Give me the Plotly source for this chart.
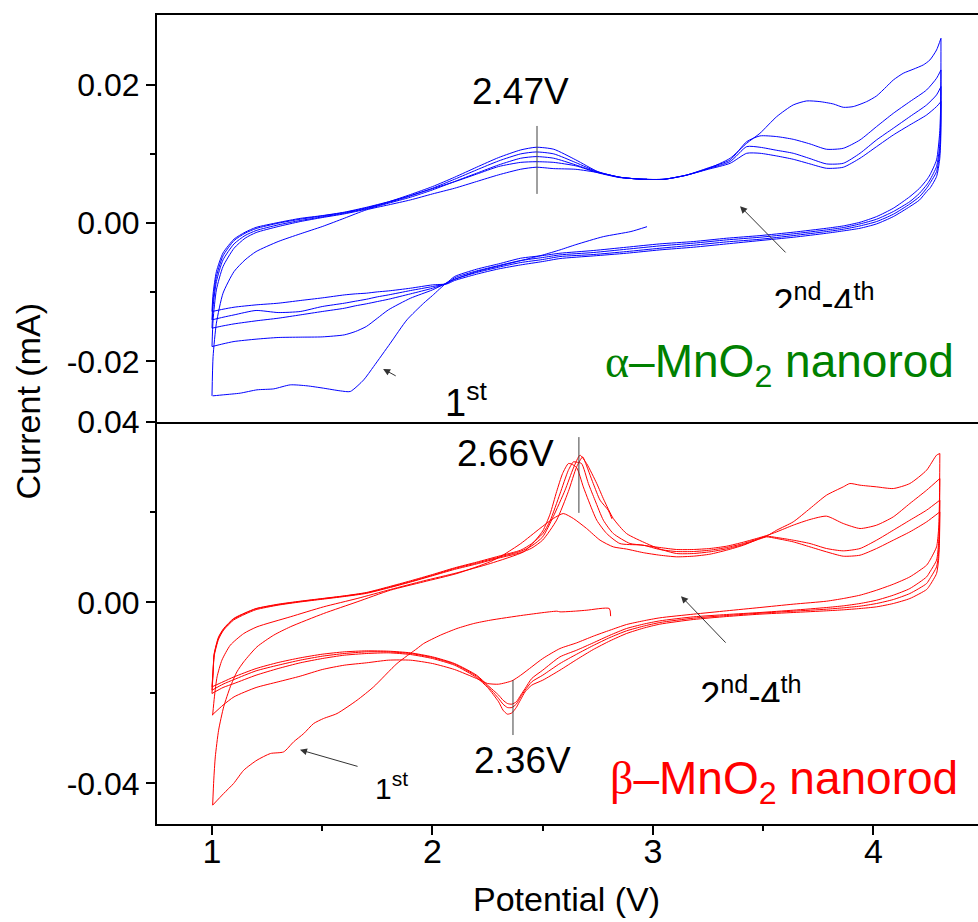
import plotly.graph_objects as go

# ================= DATA =================
# ---- alpha-MnO2 nanorod (top panel) : potential (V), current (mA)
a_an_grid = [1.00, 1.005, 1.02, 1.05, 1.10, 1.15, 1.20, 1.30, 1.40, 1.50, 1.60, 1.70, 1.80, 1.90,
             2.00, 2.10, 2.20, 2.30, 2.40, 2.47, 2.55, 2.65, 2.75, 2.85, 2.95, 3.05, 3.15, 3.25,
             3.35, 3.425, 3.485, 3.561, 3.636, 3.712, 3.787, 3.863, 3.939, 4.014, 4.09, 4.165,
             4.241, 4.286, 4.306]
a_c0_v = [2.973, 2.9, 2.775, 2.65, 2.578, 2.5, 2.414, 2.3, 2.2, 2.111, 2.066, 2.0, 1.96, 1.884,
          1.809, 1.733, 1.688, 1.627, 1.582, 1.506, 1.431, 1.355, 1.28, 1.204, 1.128, 1.053, 1.003]
a_c0_i = [-0.0005, -0.0012, -0.00194, -0.0031, -0.00386, -0.0046, -0.0053, -0.0062, -0.0070, -0.0080,
          -0.00859, -0.01046, -0.01157, -0.01398, -0.01735, -0.02073, -0.02266, -0.02434, -0.02425,
          -0.02386, -0.02352, -0.02338, -0.02396, -0.0241, -0.02458, -0.02482, -0.02497]
a_a1_v = [1.00, 1.005, 1.02, 1.05, 1.10, 1.15, 1.20, 1.30, 1.40, 1.50, 1.60, 1.70, 1.80, 1.90, 2.00,
          2.10, 2.20, 2.30, 2.40, 2.47, 2.55, 2.65, 2.75, 2.85, 2.95, 3.05, 3.15, 3.25, 3.35, 3.425,
          3.485, 3.561, 3.636, 3.697, 3.757, 3.818, 3.863, 3.908, 3.969, 4.014, 4.059, 4.09, 4.135,
          4.18, 4.226, 4.256, 4.286, 4.306]
a_a1_i = [-0.02497, -0.01928, -0.01446, -0.01012, -0.00699, -0.0053, -0.0041, -0.00265, -0.00154,
          -0.00048, 0.00072, 0.00193, 0.00265, 0.00337, 0.00424, 0.00506, 0.00603, 0.007, 0.00781,
          0.0081, 0.0079, 0.0078, 0.00733, 0.00665, 0.00636, 0.00636, 0.00694, 0.0079, 0.0094,
          0.01157, 0.01301, 0.01542, 0.01711, 0.01769, 0.01759, 0.01725, 0.01677, 0.01687, 0.01759,
          0.01841, 0.01976, 0.02072, 0.02169, 0.02227, 0.0229, 0.02362, 0.02506, 0.02675]
a_a2_i = [-0.01784, -0.01398, -0.00964, -0.00627, -0.00362, -0.00217, -0.00135, -0.00048, 0.00024,
          0.00082, 0.00135, 0.00203, 0.00289, 0.00376, 0.00482, 0.00603, 0.00723, 0.00843, 0.0094,
          0.00964, 0.0094, 0.00843, 0.00737, 0.00665, 0.00636, 0.00636, 0.00694, 0.008, 0.00916,
          0.0118, 0.01263, 0.01253, 0.01214, 0.01147, 0.0107, 0.01084, 0.01205, 0.01398, 0.0159,
          0.01759, 0.01928, 0.02097, 0.02217]
a_a3_i = [-0.01518, -0.01205, -0.00844, -0.0053, -0.00299, -0.00178, -0.00106, -0.00024, 0.00039,
          0.00092, 0.00145, 0.00212, 0.00299, 0.00395, 0.00506, 0.00636, 0.00771, 0.00901, 0.01003,
          0.01031, 0.01003, 0.00877, 0.00742, 0.00665, 0.00636, 0.00636, 0.00694, 0.0079, 0.00892,
          0.01108, 0.01099, 0.01055, 0.01012, 0.00935, 0.00858, 0.00867, 0.01012, 0.01205, 0.01374,
          0.01542, 0.01711, 0.01856, 0.01976]
a_a4_i = [-0.01398, -0.01109, -0.00771, -0.00472, -0.00251, -0.00145, -0.00077, 0.0, 0.00058,
          0.00106, 0.00154, 0.00222, 0.00308, 0.00415, 0.0053, 0.00665, 0.0081, 0.0095, 0.0106,
          0.01099, 0.0107, 0.00916, 0.00747, 0.00665, 0.00636, 0.00636, 0.00694, 0.0078, 0.00867,
          0.01012, 0.01012, 0.00973, 0.00925, 0.00858, 0.00795, 0.0081, 0.0094, 0.01108, 0.01277,
          0.01422, 0.01566, 0.01687, 0.01759]
a_a5_v = [1.00, 1.005, 1.02, 1.05, 1.10, 1.15, 1.20, 1.30, 1.40, 1.50, 1.60, 1.70, 1.80, 1.90,
          2.00, 2.10, 2.20, 2.30, 2.40, 2.47, 2.55, 2.65, 2.75, 2.85, 2.95, 2.973]
a_a5_i = [-0.01277, -0.0102, -0.0070, -0.0043, -0.0023, -0.0013, -0.0006, 0.0001, 0.0007, 0.0011,
          0.0016, 0.0023, 0.0031, 0.0040, 0.0050, 0.0060, 0.0071, 0.0082, 0.0088, 0.0089, 0.0088,
          0.0083, 0.0073, 0.0066, 0.0064, 0.0064]
a_cat_grid = [4.306, 4.305, 4.30, 4.286, 4.256, 4.241, 4.209, 4.165, 4.09, 4.014, 3.939, 3.863,
              3.787, 3.636, 3.485, 3.334, 3.183, 3.031, 2.88, 2.729, 2.578, 2.5, 2.4, 2.3, 2.2,
              2.1, 2.066, 2.0, 1.9, 1.8, 1.75, 1.7, 1.65, 1.6, 1.5, 1.4, 1.3, 1.2, 1.1, 1.05, 1.0]
a_c1_i = [0.02675, 0.01735, 0.01301, 0.00916, 0.00699, 0.00626, 0.00506, 0.00385, 0.00217, 0.00096,
          0.00014, -0.00039, -0.00073, -0.0013, -0.00179, -0.00217, -0.00265, -0.00299, -0.00347,
          -0.00395, -0.00434, -0.00468, -0.00506, -0.00588, -0.00665, -0.00771, -0.00858, -0.00964,
          -0.01085, -0.01253, -0.01374, -0.01494, -0.01567, -0.01615, -0.01644, -0.01648, -0.01653,
          -0.01677, -0.01711, -0.01745, -0.01784]
a_c2_i = [0.02217, 0.01494, 0.01108, 0.0082, 0.00626, 0.00554, 0.00434, 0.00313, 0.00169, 0.00058,
          -0.0001, -0.00063, -0.00097, -0.00154, -0.00203, -0.00241, -0.00289, -0.00328, -0.00376,
          -0.00424, -0.00458, -0.00496, -0.0054, -0.00612, -0.0069, -0.0079, -0.00868, -0.0094,
          -0.01022, -0.011, -0.01133, -0.01166, -0.01195, -0.0123, -0.01277, -0.01326, -0.01374,
          -0.01412, -0.01456, -0.01485, -0.01518]
a_c3_i = [0.01976, 0.0135, 0.01012, 0.00747, 0.00578, 0.00506, 0.00385, 0.00279, 0.0013, 0.00024,
          -0.00039, -0.00087, -0.00121, -0.00179, -0.00232, -0.0027, -0.00318, -0.00362, -0.0041,
          -0.00453, -0.00482, -0.00525, -0.00569, -0.00636, -0.00713, -0.0081, -0.00872, -0.00916,
          -0.00974, -0.01037, -0.01065, -0.011, -0.01128, -0.01157, -0.01205, -0.01277, -0.01292,
          -0.01262, -0.01326, -0.0136, -0.01398]
a_c4_i = [0.01759, 0.01205, 0.00916, 0.00675, 0.00506, 0.00458, 0.00337, 0.00241, 0.00096, -0.0001,
          -0.00073, -0.00111, -0.00145, -0.00203, -0.00251, -0.00299, -0.00347, -0.00386, -0.00434,
          -0.00473, -0.00511, -0.00554, -0.00603, -0.00661, -0.00737, -0.00829, -0.00877, -0.00892,
          -0.0094, -0.00979, -0.00993, -0.01012, -0.01022, -0.01037, -0.0108, -0.01118, -0.01157,
          -0.01181, -0.01215, -0.01244, -0.01277]

# ---- beta-MnO2 nanorod (bottom panel)
b_c0_v = [2.808, 2.802, 2.70, 2.655, 2.578, 2.565, 2.413, 2.262, 2.187, 2.111, 2.036, 1.96, 1.93,
          1.839, 1.733, 1.658, 1.567, 1.506, 1.461, 1.416, 1.37, 1.325, 1.265, 1.204, 1.144, 1.098,
          1.053, 1.003]
b_c0_i = [-0.00304, -0.00135, -0.00172, -0.0019, -0.00209, -0.00194, -0.00282, -0.00393, -0.00467,
          -0.00577, -0.00724, -0.00909, -0.0102, -0.01351, -0.01867, -0.02162, -0.02457, -0.02567,
          -0.02678, -0.029, -0.03084, -0.03305, -0.03341, -0.03488, -0.0371, -0.04004, -0.04225,
          -0.04483]
b_a1_v = [1.003, 1.008, 1.015, 1.03, 1.053, 1.083, 1.113, 1.144, 1.204, 1.28, 1.355, 1.506, 1.658,
          1.809, 1.96, 2.111, 2.262, 2.321, 2.40, 2.487, 2.548, 2.593, 2.639, 2.699, 2.76, 2.82,
          2.88, 2.956, 3.031, 3.107, 3.183, 3.258, 3.334, 3.41, 3.485, 3.515, 3.561, 3.636, 3.712,
          3.787, 3.863, 3.893, 3.939, 4.014, 4.09, 4.165, 4.241, 4.286, 4.301]
b_a1_i = [-0.04483, -0.03931, -0.03415, -0.02825, -0.02309, -0.01867, -0.01535, -0.01314, -0.00982,
          -0.00724, -0.0054, -0.00246, 0.00012, 0.0027, 0.00455, 0.00639, 0.0090, 0.0105, 0.0130,
          0.01634, 0.01855, 0.01965, 0.01855, 0.01634, 0.01376, 0.01228, 0.0118, 0.0110, 0.01044,
          0.01008, 0.01022, 0.01066, 0.01155, 0.01265, 0.01413, 0.01464, 0.01597, 0.01781, 0.02076,
          0.02371, 0.02555, 0.02629, 0.02592, 0.02555, 0.02518, 0.02629, 0.02924, 0.03255, 0.03292]
b_a2_v = [1.003, 1.011, 1.023, 1.045, 1.083, 1.144, 1.204, 1.355, 1.506, 1.658, 1.809, 1.96, 2.111,
          2.262, 2.413, 2.45, 2.50, 2.533, 2.563, 2.59, 2.616, 2.63, 2.654, 2.684, 2.707, 2.745,
          2.79, 2.85, 2.941, 3.031, 3.107, 3.183, 3.258, 3.334, 3.41, 3.485, 3.515, 3.561, 3.636,
          3.712, 3.787, 3.863, 3.939, 4.014, 4.09, 4.165, 4.241, 4.301]
b_a2_i = [-0.02493, -0.02088, -0.01646, -0.01277, -0.00946, -0.00688, -0.0054, -0.00319, -0.00098,
          0.00086, 0.00285, 0.00477, 0.00654, 0.0086, 0.01118, 0.0128, 0.0158, 0.0195, 0.0245,
          0.0285, 0.0307, 0.0306, 0.0298, 0.02555, 0.0226, 0.01818, 0.01523, 0.01302, 0.0127,
          0.01214, 0.0117, 0.0117, 0.01192, 0.01243, 0.01332, 0.01435, 0.01479, 0.0156, 0.01708,
          0.01833, 0.01907, 0.01744, 0.01634, 0.01708, 0.01892, 0.02187, 0.02481, 0.0274]
b_left_grid = [1.0, 1.005, 1.01, 1.03, 1.053, 1.098, 1.15, 1.2, 1.3, 1.4, 1.5, 1.6, 1.7, 1.8, 1.9,
               2.0, 2.1, 2.2, 2.3, 2.4, 2.45]
b_a3_v = b_left_grid + [2.50, 2.533, 2.578, 2.616, 2.639, 2.654, 2.676, 2.707, 2.737, 2.775, 2.82,
                        2.896, 2.956, 3.031, 3.107, 3.183, 3.258, 3.334, 3.41, 3.485, 3.515, 3.561,
                        3.636, 3.712, 3.787, 3.863, 3.939, 4.014, 4.09, 4.165, 4.241, 4.301]
b_a3_i = [-0.01867, -0.01498, -0.0113, -0.00761, -0.00577, -0.00356, -0.00231, -0.00135, -0.00039,
          0.00027, 0.00086, 0.00145, 0.00219, 0.00344, 0.00477, 0.00617, 0.00764, 0.0089, 0.01022,
          0.01155, 0.0130, 0.0152, 0.0180, 0.0240, 0.0292, 0.03108, 0.0310, 0.03071, 0.02629,
          0.0226, 0.01818, 0.01523, 0.01302, 0.01265, 0.0117, 0.01125, 0.01125, 0.01155, 0.01214,
          0.01302, 0.0142, 0.01464, 0.01435, 0.01376, 0.01302, 0.01192, 0.0114, 0.01192, 0.01376,
          0.01597, 0.01818, 0.0204, 0.02261]
b_a4_v = b_left_grid + [2.50, 2.548, 2.601, 2.639, 2.669, 2.699, 2.745, 2.778, 2.82, 2.88, 2.971,
                        3.031, 3.107, 3.183, 3.258, 3.334, 3.41, 3.485, 3.515, 3.561, 3.636, 3.712,
                        3.787, 3.863, 3.939, 4.014, 4.09, 4.165, 4.241, 4.301]
b_a4_i = [-0.0194, -0.0152, -0.0115, -0.0078, -0.0059, -0.0037, -0.0024, -0.0014, -0.0005, 0.0002,
          0.0008, 0.0014, 0.0021, 0.0033, 0.0046, 0.0060, 0.0075, 0.0087, 0.0100, 0.0113, 0.0125,
          0.0145, 0.0190, 0.0248, 0.0297, 0.03255, 0.0307, 0.02629, 0.0226, 0.01855, 0.01523,
          0.01302, 0.0118, 0.01081, 0.01081, 0.01118, 0.01184, 0.0128, 0.01405, 0.01449, 0.01413,
          0.01339, 0.01228, 0.01118, 0.01022, 0.01044, 0.01192, 0.01376, 0.0156, 0.01781, 0.02002]
b_a5_v = b_left_grid + [2.50, 2.563, 2.616, 2.654, 2.681, 2.692, 2.729, 2.76, 2.797, 2.814]
b_a5_i = [-0.02014, -0.0156, -0.0118, -0.0081, -0.0061, -0.0039, -0.0026, -0.0016, -0.0006, 0.0001,
          0.0007, 0.0013, 0.0020, 0.0032, 0.0045, 0.0059, 0.0073, 0.0085, 0.0098, 0.0110, 0.0120,
          0.0138, 0.0182, 0.0245, 0.0300, 0.03218, 0.03108, 0.02629, 0.0226, 0.02039, 0.01847]
b_cat_right = [4.301, 4.299, 4.295, 4.286, 4.256, 4.241, 4.165, 4.09, 4.014, 3.939, 3.863, 3.787,
               3.636, 3.485, 3.334, 3.183, 3.031, 2.956, 2.88, 2.805, 2.729, 2.654, 2.578]
b_c1_left = [2.5, 2.45, 2.40, 2.36, 2.30, 2.25, 2.20, 2.10, 2.00, 1.90, 1.80, 1.70, 1.60, 1.50,
             1.40, 1.30, 1.20, 1.10, 1.05, 1.0]
b_dip_left = [2.5, 2.45, 2.42, 2.40, 2.38, 2.36, 2.34, 2.32, 2.30, 2.25, 2.20, 2.10, 2.00, 1.90,
              1.80, 1.70, 1.60, 1.50, 1.40, 1.30, 1.20, 1.10, 1.05, 1.0]
b_c1_i = [0.03292, 0.02187, 0.01597, 0.01229, 0.00934, 0.00823, 0.00565, 0.00403, 0.0027, 0.0016,
          0.00086, 0.00027, -0.00039, -0.00113, -0.00186, -0.0026, -0.00341, -0.00408, -0.00489,
          -0.00614, -0.00747, -0.00894, -0.0102,
          -0.01241, -0.01425, -0.0161, -0.01734, -0.01808, -0.01793, -0.01683, -0.01484, -0.01351,
          -0.01277, -0.01277, -0.01336, -0.01388, -0.01484, -0.01631, -0.01756, -0.01882, -0.02088,
          -0.02272, -0.02493]
b_c2_i = [0.0274, 0.01744, 0.01302, 0.00934, 0.00676, 0.00565, 0.00307, 0.0016, 0.00049, -0.00024,
          -0.00076, -0.00113, -0.00172, -0.00223, -0.00268, -0.00319, -0.00408, -0.00481, -0.00577,
          -0.00725, -0.00894, -0.01056, -0.01204,
          -0.01498, -0.01683, -0.01904, -0.02051, -0.02199, -0.0225, -0.02235, -0.02162, -0.02051,
          -0.0183, -0.01609, -0.01351, -0.01204, -0.01115, -0.01078, -0.01071, -0.01093, -0.01145,
          -0.01226, -0.01329, -0.01462, -0.01646, -0.01756, -0.01867]
b_c3_i = [0.02261, 0.01449, 0.01081, 0.00786, 0.00528, 0.00418, 0.00197, 0.00064, -0.00024,
          -0.00083, -0.0012, -0.0015, -0.00194, -0.00238, -0.0029, -0.00349, -0.00445, -0.00526,
          -0.00629, -0.00776, -0.00953, -0.01145, -0.01351,
          -0.01609, -0.01756, -0.01941, -0.02088, -0.0225, -0.02324, -0.02324, -0.0225, -0.02125,
          -0.01852, -0.01631, -0.01366, -0.01218, -0.0113, -0.01093, -0.01093, -0.0113, -0.01189,
          -0.01277, -0.01388, -0.01513, -0.01705, -0.01808, -0.01941]
b_c4_i = [0.02002, 0.01302, 0.00934, 0.00639, 0.00381, 0.00285, 0.00086, -0.00024, -0.00098,
          -0.00135, -0.00164, -0.00186, -0.00223, -0.0026, -0.00312, -0.00378, -0.00481, -0.0057,
          -0.00688, -0.0085, -0.01042, -0.01263, -0.01498,
          -0.0172, -0.0183, -0.01977, -0.02147, -0.02324, -0.02442, -0.02471, -0.02383, -0.02199,
          -0.01882, -0.01661, -0.01388, -0.01241, -0.01152, -0.01115, -0.0113, -0.01167, -0.01241,
          -0.01336, -0.01462, -0.01609, -0.01793, -0.01882, -0.02014]

# axis ticks
x_ticks = [1, 2, 3, 4]
x_minor = [1.5, 2.5, 3.5]
top_yticks = [-0.02, 0.0, 0.02]
top_ytext = ["-0.02", "0.00", "0.02"]
top_yminor = [-0.01, 0.01]
bot_yticks = [-0.04, 0.0, 0.04]
bot_ytext = ["-0.04", "0.00", "0.04"]
bot_yminor = [-0.02, 0.02]

# ================= FIGURE =================
FONT = "Liberation Sans, Arial, sans-serif"
W, H = 978, 922
BLUE, RED = "#0000ff", "#ff0000"
XR = [0.7506, 4.474]
x_dom = [157 / W, 1.0]
top_dom = [1 - 421.5 / H, 1 - 15 / H]
bot_dom = [1 - 824.3 / H, 1 - 421.5 / H]

fig = go.Figure()


def curve(v, i, color, xa, ya):
    fig.add_trace(go.Scatter(x=v, y=i, mode="lines",
                             line=dict(color=color, width=1, shape="spline", smoothing=0.6),
                             xaxis=xa, yaxis=ya, showlegend=False, hoverinfo="skip"))


curve(a_c0_v, a_c0_i, BLUE, "x2", "y2")
curve(a_a1_v, a_a1_i, BLUE, "x2", "y2")
curve(a_cat_grid, a_c1_i, BLUE, "x2", "y2")
curve(a_an_grid, a_a2_i, BLUE, "x2", "y2")
curve(a_cat_grid, a_c2_i, BLUE, "x2", "y2")
curve(a_an_grid, a_a3_i, BLUE, "x2", "y2")
curve(a_cat_grid, a_c3_i, BLUE, "x2", "y2")
curve(a_an_grid, a_a4_i, BLUE, "x2", "y2")
curve(a_cat_grid, a_c4_i, BLUE, "x2", "y2")
curve(a_a5_v, a_a5_i, BLUE, "x2", "y2")

curve(b_c0_v, b_c0_i, RED, "x", "y")
curve(b_a1_v, b_a1_i, RED, "x", "y")
curve(b_cat_right + b_c1_left, b_c1_i, RED, "x", "y")
curve(b_a2_v, b_a2_i, RED, "x", "y")
curve(b_cat_right + b_dip_left, b_c2_i, RED, "x", "y")
curve(b_a3_v, b_a3_i, RED, "x", "y")
curve(b_cat_right + b_dip_left, b_c3_i, RED, "x", "y")
curve(b_a4_v, b_a4_i, RED, "x", "y")
curve(b_cat_right + b_dip_left, b_c4_i, RED, "x", "y")
curve(b_a5_v, b_a5_i, RED, "x", "y")

# clipped "2nd-4th" labels (clipped by their own subplot areas, as in the source)
fig.add_trace(go.Scatter(x=[3.776], y=[-0.0120], mode="text",
                         text=["2<sup>nd</sup>-4<sup>th</sup>"],
                         textfont=dict(size=36, color="black", family=FONT),
                         xaxis="x3", yaxis="y3", showlegend=False, hoverinfo="skip",
                         cliponaxis=True))
fig.add_trace(go.Scatter(x=[3.444], y=[-0.02137], mode="text",
                         text=["2<sup>nd</sup>-4<sup>th</sup>"],
                         textfont=dict(size=36, color="black", family=FONT),
                         xaxis="x4", yaxis="y4", showlegend=False, hoverinfo="skip",
                         cliponaxis=True))

axis_common = dict(showgrid=False, zeroline=False, showline=True, linecolor="black",
                   linewidth=2, ticks="outside", ticklen=9, tickwidth=2, tickcolor="black",
                   automargin=False)

fig.update_layout(
    width=W, height=H, margin=dict(l=0, r=0, t=0, b=0, pad=0, autoexpand=False),
    paper_bgcolor="white", plot_bgcolor="rgba(0,0,0,0)",
    font=dict(family=FONT, color="black"),
    xaxis=dict(domain=x_dom, range=XR, anchor="y", tickvals=x_ticks,
               ticktext=[str(t) for t in x_ticks], tickfont=dict(size=34),
               ticklabelstandoff=-13,
               minor=dict(tickvals=x_minor, ticklen=5, tickwidth=2, ticks="outside",
                          tickcolor="black"),
               **axis_common),
    yaxis=dict(domain=bot_dom, range=[-0.04906, 0.0400001], anchor="x", tickvals=bot_yticks,
               ticktext=bot_ytext, tickfont=dict(size=32),
               minor=dict(tickvals=bot_yminor, ticklen=5, tickwidth=2, ticks="outside",
                          tickcolor="black"),
               **axis_common),
    xaxis2=dict(domain=x_dom, range=XR, anchor="y2", showticklabels=False, ticks="",
                showgrid=False, zeroline=False, showline=True, mirror=True,
                linecolor="black", linewidth=2, automargin=False),
    yaxis2=dict(domain=top_dom, range=[-0.02868, 0.03012], anchor="x2", tickvals=top_yticks,
                ticktext=top_ytext, tickfont=dict(size=32),
                minor=dict(tickvals=top_yminor, ticklen=5, tickwidth=2, ticks="outside",
                           tickcolor="black"),
                **axis_common),
    xaxis3=dict(domain=x_dom, range=XR, anchor="y3", visible=False, automargin=False),
    yaxis3=dict(domain=[1 - 308 / H, 1 - 15 / H], range=[-0.01225, 0.03012], anchor="x3",
                visible=False, automargin=False),
    xaxis4=dict(domain=x_dom, range=XR, anchor="y4", visible=False, automargin=False),
    yaxis4=dict(domain=[1 - 702 / H, 1 - 421.5 / H], range=[-0.02203, 0.03996], anchor="x4",
                visible=False, automargin=False),
)

# peak marker lines
for xr, yr, xv, y0, y1 in [("x2", "y2", 2.474, 0.00424, 0.01407),
                           ("x", "y", 2.664, 0.0198, 0.03655),
                           ("x", "y", 2.365, -0.02932, -0.01717)]:
    fig.add_shape(type="line", xref=xr, yref=yr, x0=xv, x1=xv, y0=y0, y1=y1,
                  line=dict(color="#404040", width=1))

ann = []


def label(text, x, y, xr, yr, size, color="black", xanchor="center"):
    ann.append(dict(text=text, x=x, y=y, xref=xr, yref=yr, showarrow=False,
                    font=dict(size=size, color=color, family=FONT),
                    xanchor=xanchor, yanchor="middle"))


def arrow(xh, yh, xt, yt, xr, yr):
    ann.append(dict(text="", x=xh, y=yh, ax=xt, ay=yt, xref=xr, yref=yr, axref=xr, ayref=yr,
                    showarrow=True, arrowhead=2, arrowsize=1.4, arrowwidth=1,
                    arrowcolor="#333333"))


label("2.47V", 2.399, 0.01899, "x2", "y2", 37)
label("2.66V", 2.333, 0.0330, "x", "y", 37)
label("2.36V", 2.41, -0.03485, "x", "y", 37)
label("1<sup>st</sup>", 2.154, -0.0255, "x2", "y2", 38)
label("1<sup>st</sup>", 1.816, -0.0405, "x", "y", 30)
label('<span style="font-family:Liberation Serif">α</span>–MnO<sub>2</sub> nanorod',
      2.773, -0.0205, "x2", "y2", 46, color="#008000", xanchor="left")
label('<span style="font-family:Liberation Serif">β</span>–MnO<sub>2</sub> nanorod',
      2.796, -0.0395, "x", "y", 46, color="#ff0000", xanchor="left")

arrow(3.395, 0.00246, 3.608, -0.00444, "x2", "y2")
arrow(3.127, 0.00139, 3.336, -0.00922, "x", "y")
arrow(1.399, -0.03259, 1.667, -0.03635, "x", "y")
arrow(1.776, -0.02107, 1.84, -0.0222, "x2", "y2")

ann.append(dict(text="Current (mA)", x=27.5 / W, y=1 - 402 / H, xref="paper", yref="paper",
                showarrow=False, textangle=-90, font=dict(size=34, family=FONT),
                xanchor="center", yanchor="middle"))
ann.append(dict(text="Potential (V)", x=566 / W, y=1 - 899 / H, xref="paper", yref="paper",
                showarrow=False, font=dict(size=34, family=FONT),
                xanchor="center", yanchor="middle"))

fig.update_layout(annotations=ann)
fig.write_html("out.html")
